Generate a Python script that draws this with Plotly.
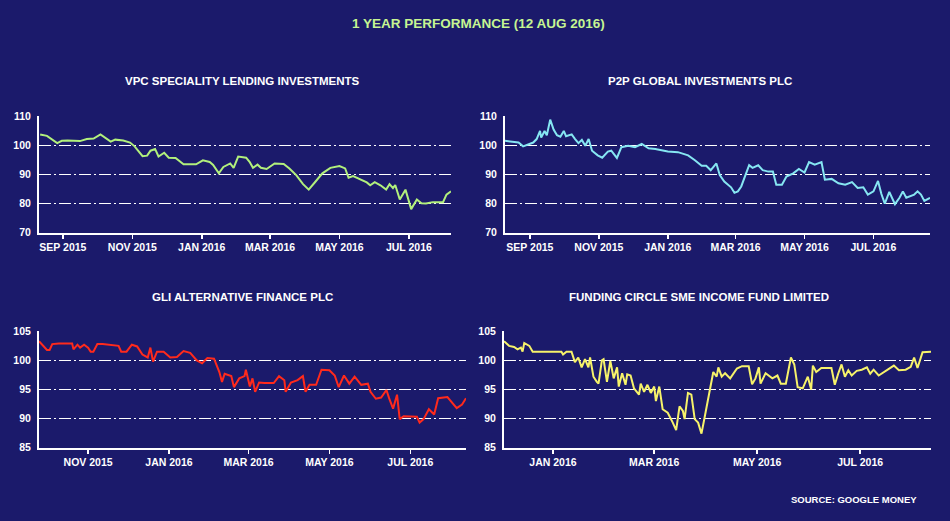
import plotly.graph_objects as go

# ---------------- data ----------------
vpc_dates = ["2015-08-12","2015-08-18","2015-08-27","2015-08-31","2015-09-05","2015-09-16","2015-09-22","2015-09-28",
             "2015-10-04","2015-10-13","2015-10-17","2015-10-24","2015-10-30","2015-11-03","2015-11-10","2015-11-14",
             "2015-11-17","2015-11-21","2015-11-24","2015-11-29","2015-12-03","2015-12-09","2015-12-16","2015-12-27",
             "2016-01-02","2016-01-08","2016-01-11","2016-01-16","2016-01-20","2016-01-26","2016-01-29","2016-02-02",
             "2016-02-09","2016-02-12","2016-02-15","2016-02-19","2016-02-22","2016-02-27","2016-03-05","2016-03-13",
             "2016-03-18","2016-03-24","2016-03-30","2016-04-04","2016-04-10","2016-04-16","2016-04-23","2016-05-01",
             "2016-05-06","2016-05-09","2016-05-13","2016-05-19","2016-05-25","2016-05-28","2016-06-01","2016-06-06",
             "2016-06-11","2016-06-14","2016-06-17","2016-06-19","2016-06-23","2016-06-28","2016-07-03","2016-07-08",
             "2016-07-12","2016-07-16","2016-07-22","2016-07-31","2016-08-03","2016-08-07"]
vpc_values = [103.8,103.3,100.8,101.6,101.7,101.5,102.2,102.4,
              103.8,101.3,102.0,101.7,101.0,99.7,96.3,96.5,
              98.2,98.8,96.2,97.5,95.8,95.7,93.5,93.5,
              94.9,94.3,93.3,90.4,92.6,93.8,92.3,96.2,
              95.8,94.4,92.3,93.4,92.3,91.9,93.8,93.6,
              92.1,89.8,86.7,84.8,87.6,90.4,92.3,92.9,
              92.1,88.9,89.5,88.5,87.3,86.3,87.4,86.3,
              84.8,86.7,85.3,86.4,81.4,84.8,78.1,81.4,
              80.1,80.0,80.5,80.5,83.1,84.2]

p2p_dates = ["2015-08-10","2015-08-17","2015-08-22","2015-08-26","2015-08-30","2015-09-04","2015-09-07","2015-09-10",
             "2015-09-11","2015-09-14","2015-09-16","2015-09-19","2015-09-22","2015-09-25","2015-09-28","2015-10-01",
             "2015-10-03","2015-10-08","2015-10-11","2015-10-14","2015-10-17","2015-10-20","2015-10-23","2015-10-26",
             "2015-10-31","2015-11-04","2015-11-09","2015-11-12","2015-11-17","2015-11-21","2015-11-27","2015-12-03",
             "2015-12-09","2015-12-15","2015-12-21","2015-12-27","2016-01-01","2016-01-10","2016-01-19","2016-01-25",
             "2016-01-31","2016-02-04","2016-02-08","2016-02-13","2016-02-16","2016-02-20","2016-02-26","2016-02-29",
             "2016-03-03","2016-03-06","2016-03-10","2016-03-13","2016-03-16","2016-03-21","2016-03-25","2016-03-30",
             "2016-04-03","2016-04-06","2016-04-11","2016-04-15","2016-04-21","2016-04-26","2016-05-01","2016-05-05",
             "2016-05-10","2016-05-16","2016-05-19","2016-05-25","2016-05-31","2016-06-06","2016-06-12","2016-06-17",
             "2016-06-22","2016-06-26","2016-07-01","2016-07-05","2016-07-08","2016-07-11","2016-07-15","2016-07-20",
             "2016-07-24","2016-07-27","2016-07-30","2016-08-06","2016-08-09","2016-08-12","2016-08-15","2016-08-20"]
p2p_values = [101.6,101.4,101.0,99.7,100.2,101.0,102.2,105.0,
              102.7,105.0,103.5,108.9,105.5,103.5,103.0,105.0,
              103.2,103.8,102.2,100.8,101.9,99.9,102.2,98.2,
              96.6,95.8,97.9,98.2,95.7,99.4,99.9,99.4,
              100.5,99.0,98.8,98.2,97.9,97.7,96.6,94.9,
              93.0,93.0,91.5,93.8,89.8,87.6,85.6,83.7,
              84.2,85.9,89.8,93.2,92.3,93.2,91.5,91.0,
              91.0,86.5,86.5,89.3,90.4,91.9,90.7,94.3,
              93.4,94.3,88.2,88.5,87.0,86.5,87.4,85.4,
              85.6,83.1,84.2,87.8,83.3,80.0,84.0,79.8,
              82.0,84.2,82.0,83.1,84.2,83.1,80.9,82.0]

gli_dates = ["2015-09-25","2015-09-28","2015-10-01","2015-10-03","2015-10-05","2015-10-10","2015-10-16","2015-10-20",
             "2015-10-21","2015-10-24","2015-10-26","2015-10-29","2015-11-01","2015-11-03","2015-11-05","2015-11-08",
             "2015-11-12","2015-11-16","2015-11-21","2015-11-24","2015-11-26","2015-11-30","2015-12-04","2015-12-08",
             "2015-12-12","2015-12-16","2015-12-18","2015-12-20","2015-12-23","2015-12-28","2016-01-02","2016-01-07",
             "2016-01-12","2016-01-17","2016-01-22","2016-01-26","2016-01-30","2016-02-04","2016-02-08","2016-02-10",
             "2016-02-12","2016-02-17","2016-02-19","2016-02-23","2016-02-27","2016-02-28","2016-03-02","2016-03-04",
             "2016-03-06","2016-03-09","2016-03-13","2016-03-20","2016-03-24","2016-03-28","2016-03-29","2016-04-02",
             "2016-04-07","2016-04-11","2016-04-13","2016-04-16","2016-04-21","2016-04-25","2016-05-01","2016-05-05",
             "2016-05-08","2016-05-12","2016-05-16","2016-05-20","2016-05-25","2016-05-30","2016-06-01","2016-06-05",
             "2016-06-09","2016-06-13","2016-06-15","2016-06-18","2016-06-21","2016-06-23","2016-06-26","2016-07-06",
             "2016-07-08","2016-07-11","2016-07-15","2016-07-19","2016-07-22","2016-07-29","2016-08-05","2016-08-09",
             "2016-08-12"]
gli_values = [103.3,102.5,101.8,101.8,102.8,102.9,102.9,102.9,
              101.9,102.7,102.2,102.7,102.2,101.5,101.5,102.8,
              102.8,102.7,102.6,102.5,101.5,101.5,102.7,102.4,
              101.0,100.5,102.2,99.8,101.5,101.5,100.5,100.6,
              101.6,101.3,100.0,99.5,100.4,100.3,98.0,96.3,
              97.7,97.3,95.4,96.9,97.3,98.4,95.5,96.9,
              94.6,96.2,96.1,96.1,97.3,96.6,94.6,96.2,
              96.6,97.3,94.6,95.8,95.8,98.4,98.3,97.4,
              95.4,97.4,96.0,97.2,95.8,96.0,94.6,93.4,
              93.6,94.9,93.5,91.7,94.1,89.9,90.4,90.3,
              89.3,89.9,91.6,90.7,93.5,93.7,91.8,92.4,
              93.5]

fc_dates = ["2015-12-03","2015-12-06","2015-12-09","2015-12-11","2015-12-13","2015-12-14","2015-12-15","2015-12-18",
            "2015-12-20","2015-12-26","2016-01-01","2016-01-06","2016-01-07","2016-01-09","2016-01-12","2016-01-14",
            "2016-01-16","2016-01-18","2016-01-20","2016-01-22","2016-01-23","2016-01-25","2016-01-27","2016-01-28",
            "2016-01-30","2016-01-31","2016-02-02","2016-02-04","2016-02-06","2016-02-08","2016-02-09","2016-02-11",
            "2016-02-13","2016-02-14","2016-02-16","2016-02-18","2016-02-21","2016-02-22","2016-02-24","2016-02-26",
            "2016-02-28","2016-03-01","2016-03-02","2016-03-04","2016-03-06","2016-03-09","2016-03-12","2016-03-14",
            "2016-03-16","2016-03-18","2016-03-19","2016-03-21","2016-03-23","2016-03-25","2016-03-27","2016-03-29",
            "2016-03-31","2016-04-02","2016-04-03","2016-04-05","2016-04-07","2016-04-08","2016-04-10","2016-04-12",
            "2016-04-15","2016-04-19","2016-04-22","2016-04-26","2016-04-28","2016-04-30","2016-05-02","2016-05-03",
            "2016-05-06","2016-05-10","2016-05-13","2016-05-15","2016-05-18","2016-05-21","2016-05-23","2016-05-25",
            "2016-05-28","2016-05-31","2016-06-02","2016-06-03","2016-06-05","2016-06-08","2016-06-14","2016-06-16",
            "2016-06-18","2016-06-20","2016-06-22","2016-06-24","2016-06-26","2016-06-29","2016-07-02","2016-07-05",
            "2016-07-07","2016-07-09","2016-07-12","2016-07-16","2016-07-21","2016-07-24","2016-07-28","2016-07-31",
            "2016-08-02","2016-08-04","2016-08-07","2016-08-12"]
fc_values = [103.3,102.5,102.3,101.9,102.2,101.5,103.0,102.5,
             101.5,101.5,101.5,101.5,101.0,101.5,101.5,99.7,
             100.5,98.8,100.2,98.8,100.5,97.2,96.3,96.0,
             100.0,100.2,96.3,99.9,96.9,98.8,95.5,97.8,
             95.8,97.6,97.4,95.2,94.1,96.0,94.6,95.8,
             94.4,95.5,93.0,95.5,91.6,91.0,89.3,88.0,
             92.1,91.3,89.9,94.4,94.1,89.9,89.3,87.4,
             90.4,93.5,94.6,98.0,97.2,98.8,97.2,97.8,
             96.9,98.6,99.0,99.0,95.9,96.9,98.8,96.0,
             97.8,96.9,97.4,96.0,96.0,100.5,99.3,95.4,
             95.2,97.2,95.0,99.1,98.0,98.7,98.7,95.8,
             97.7,99.3,97.2,98.3,97.4,98.2,98.4,98.8,
             97.7,98.4,97.4,98.2,99.1,98.3,98.4,98.9,
             100.5,98.7,101.4,101.5]

top_left_tick_vals = ["2015-09-01","2015-11-01","2016-01-01","2016-03-01","2016-05-01","2016-07-01"]
top_left_tick_text = ["SEP 2015","NOV 2015","JAN 2016","MAR 2016","MAY 2016","JUL 2016"]
bottom_left_tick_vals = ["2015-11-01","2016-01-01","2016-03-01","2016-05-01","2016-07-01"]
bottom_left_tick_text = ["NOV 2015","JAN 2016","MAR 2016","MAY 2016","JUL 2016"]
bottom_right_tick_vals = ["2016-01-01","2016-03-01","2016-05-01","2016-07-01"]
bottom_right_tick_text = ["JAN 2016","MAR 2016","MAY 2016","JUL 2016"]
top_y_ticks = [70, 80, 90, 100, 110]
bottom_y_ticks = [85, 90, 95, 100, 105]

chart_title = "1 YEAR PERFORMANCE (12 AUG 2016)"
panel_titles = ["VPC SPECIALITY LENDING INVESTMENTS", "P2P GLOBAL INVESTMENTS PLC",
                "GLI ALTERNATIVE FINANCE PLC", "FUNDING CIRCLE SME INCOME FUND LIMITED"]
source_text = "SOURCE: GOOGLE MONEY"

# ---------------- style ----------------
BG = "#1b1a6b"
FONT = "Liberation Sans, Arial, sans-serif"
W, H = 950, 521
GRID_DASH = "12px,3px,2px,3px"

def px_x(a, b):
    return [a / W, b / W]

def px_y(top, bottom):
    return [1 - bottom / H, 1 - top / H]

fig = go.Figure()

series = [
    (vpc_dates, vpc_values, "#b2f07c", "x", "y"),
    (p2p_dates, p2p_values, "#86e6f2", "x2", "y2"),
    (gli_dates, gli_values, "#ff2a1c", "x3", "y3"),
    (fc_dates, fc_values, "#f6f26a", "x4", "y4"),
]
for d, v, c, xa, ya in series:
    fig.add_trace(go.Scatter(x=d, y=v, mode="lines", line=dict(color=c, width=2),
                             xaxis=xa, yaxis=ya, showlegend=False, hoverinfo="skip"))

tickfont = dict(family=FONT, size=10.5, color="white", weight="bold")

def xax(domain, rng, tv, tt, anchor):
    return dict(domain=domain, range=rng, type="date", anchor=anchor,
                showline=True, linecolor="white", linewidth=2,
                ticks="outside", ticklen=4, tickwidth=1.5, tickcolor="white",
                tickvals=tv, ticktext=tt, tickfont=tickfont,
                showgrid=False, zeroline=False, fixedrange=True)

def yax(domain, rng, tv, anchor):
    return dict(domain=domain, range=rng, anchor=anchor,
                showline=True, linecolor="white", linewidth=2,
                ticks="", tickvals=tv, tickfont=tickfont, ticklabelstandoff=4,
                showgrid=True, gridcolor="white", gridwidth=1.5, griddash=GRID_DASH,
                zeroline=False, fixedrange=True)

top_y = px_y(113, 232)
bot_y = px_y(333, 452)

fig.update_layout(
    width=W, height=H,
    paper_bgcolor=BG, plot_bgcolor=BG,
    margin=dict(l=0, r=0, t=0, b=0),
    font=dict(family=FONT, color="white"),
    xaxis=xax(px_x(39, 451), ["2015-08-11", "2016-08-07"], top_left_tick_vals, top_left_tick_text, "y"),
    yaxis=yax(top_y, [70, 110], top_y_ticks, "x"),
    xaxis2=xax(px_x(505, 930), ["2015-08-10", "2016-08-20"], top_left_tick_vals, top_left_tick_text, "y2"),
    yaxis2=yax(top_y, [70, 110], top_y_ticks, "x2"),
    xaxis3=xax(px_x(39, 466), ["2015-09-25", "2016-08-12"], bottom_left_tick_vals, bottom_left_tick_text, "y3"),
    yaxis3=yax(bot_y, [85, 105], bottom_y_ticks, "x3"),
    xaxis4=xax(px_x(504, 931), ["2015-12-03", "2016-08-12"], bottom_right_tick_vals, bottom_right_tick_text, "y4"),
    yaxis4=yax(bot_y, [85, 105], bottom_y_ticks, "x4"),
)

def ann(text, x, y, size, color="white", xanchor="center"):
    fig.add_annotation(text=text, x=x / W, y=1 - y / H, xref="paper", yref="paper",
                       xanchor=xanchor, yanchor="middle", showarrow=False,
                       font=dict(family=FONT, size=size, color=color, weight="bold"))

ann(chart_title, 478, 18, 13.5, color="#c6f592")
ann(panel_titles[0], 242, 77, 11.5)
ann(panel_titles[1], 700, 77, 11.5)
ann(panel_titles[2], 242, 298, 11.5)
ann(panel_titles[3], 699, 298, 11.5)
ann(source_text, 919, 505, 9.5, xanchor="right")

fig.write_html(
    "out.html",
    config={"displayModeBar": False, "staticPlot": True},
    post_script="document.body.style.margin='0';document.body.style.overflow='hidden';"
                "document.body.style.background='" + BG + "';",
)
